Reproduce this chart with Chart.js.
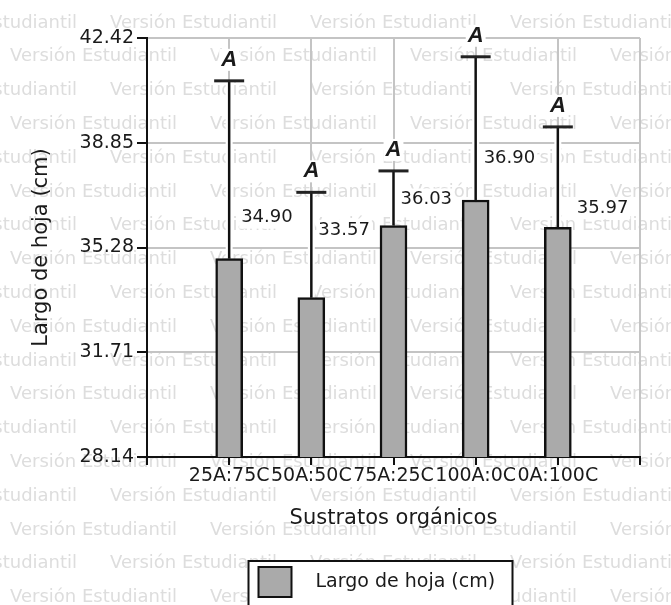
<!DOCTYPE html>
<html>
<head>
<meta charset="utf-8">
<script src="https://cdn.jsdelivr.net/npm/chart.js@4/dist/chart.umd.min.js"></script>
<style>
    html, body { margin: 0; padding: 0; background: #fff; overflow: hidden; }
</style>
</head>
<body>
<canvas id="chart" width="671" height="605"></canvas>
<script>
// Data
const categories = ['25A:75C', '50A:50C', '75A:25C', '100A:0C', '0A:100C'];
const leafLength = [34.90, 33.57, 36.03, 36.90, 35.97];
const leafSd = [6.06, 3.59, 1.86, 4.88, 3.42];
const groupLetters = ['A', 'A', 'A', 'A', 'A'];
const yTicks = [28.14, 31.71, 35.28, 38.85, 42.42];

const FONT = '"DejaVu Sans", sans-serif';
const BAR_FILL = '#aaaaaa';

// empty slots at both ends so the bars sit one step in from the axes
const paddedLabels = [''].concat(categories, ['']);
const paddedValues = [null].concat(leafLength, [null]);

function textWithBackground(ctx, text, x, y, align) {
    const w = ctx.measureText(text).width;
    const left = align === 'left' ? x : x - w / 2;
    ctx.fillStyle = '#fff';
    ctx.fillRect(left - 2, y - 11, w + 4, 22);
    ctx.fillStyle = '#1a1a1a';
    ctx.fillText(text, x, y);
}

// "Versión Estudiantil" watermark behind everything
const watermark = {
    id: 'watermark',
    beforeDraw(chart) {
        const ctx = chart.ctx;
        ctx.save();
        ctx.fillStyle = '#fff';
        ctx.fillRect(0, 0, chart.width, chart.height);
        ctx.font = '18px ' + FONT;
        ctx.fillStyle = '#dddddd';
        ctx.textBaseline = 'middle';
        for (let k = 0; k < 18; k++) {
            const y = 23 + k * 33.8;
            const start = k % 2 === 0 ? -90 : 10;
            for (let x = start; x < chart.width; x += 200) {
                ctx.fillText('Versión Estudiantil', x, y);
            }
        }
        ctx.restore();
    }
};

// error bars, letters and value labels
const annotations = {
    id: 'annotations',
    afterDatasetsDraw(chart, args, opts) {
        const ctx = chart.ctx;
        const y = chart.scales.y;
        const bars = chart.getDatasetMeta(0).data;
        ctx.save();
        leafLength.forEach((v, i) => {
            const bar = bars[i + 1];
            const cx = bar.x;
            const top = y.getPixelForValue(v);
            const cap = y.getPixelForValue(v + leafSd[i]);

            // white halo then the line
            ctx.strokeStyle = '#fff';
            ctx.lineWidth = 7;
            ctx.beginPath();
            ctx.moveTo(cx, top - 2);
            ctx.lineTo(cx, cap);
            ctx.stroke();

            ctx.strokeStyle = '#111';
            ctx.lineWidth = 2.5;
            ctx.beginPath();
            ctx.moveTo(cx, top);
            ctx.lineTo(cx, cap);
            ctx.stroke();

            ctx.lineWidth = 3;
            ctx.strokeStyle = '#222';
            ctx.beginPath();
            ctx.moveTo(cx - 15, cap);
            ctx.lineTo(cx + 15, cap);
            ctx.stroke();

            ctx.textBaseline = 'middle';
            ctx.textAlign = 'center';
            ctx.font = 'bold italic 22px "Liberation Sans", Arial, sans-serif';
            textWithBackground(ctx, groupLetters[i], cx, cap - 21, 'center');

            ctx.textAlign = 'left';
            ctx.font = '18px ' + FONT;
            textWithBackground(ctx, v.toFixed(2), cx + opts.dx[i], top - opts.dy[i], 'left');
        });
        ctx.restore();
    },
    afterDraw(chart) {
        // legend box, cut by the bottom edge as in the picture
        const ctx = chart.ctx;
        const area = chart.chartArea;
        const cx = (area.left + area.right) / 2 - 13;
        const left = cx - 132;
        const top = chart.height - 44;
        ctx.save();
        ctx.fillStyle = '#fff';
        ctx.fillRect(left, top, 264, 70);
        ctx.strokeStyle = '#111';
        ctx.lineWidth = 2;
        ctx.strokeRect(left, top, 264, 70);
        ctx.fillStyle = BAR_FILL;
        ctx.fillRect(left + 10, top + 6, 33, 30);
        ctx.strokeRect(left + 10, top + 6, 33, 30);
        ctx.fillStyle = '#1a1a1a';
        ctx.font = '19px ' + FONT;
        ctx.textBaseline = 'middle';
        ctx.fillText(chart.data.datasets[0].label, left + 67, top + 21);
        ctx.restore();
    }
};

new Chart(document.getElementById('chart'), {
    type: 'bar',
    data: {
        labels: paddedLabels,
        datasets: [{
            label: 'Largo de hoja (cm)',
            data: paddedValues,
            backgroundColor: BAR_FILL,
            borderColor: '#111',
            borderWidth: 2.5,
            borderSkipped: false,
            barThickness: 27
        }]
    },
    options: {
        responsive: false,
        animation: false,
        layout: { padding: { top: 38, right: 31, bottom: 0, left: 0 } },
        plugins: {
            legend: { display: false },
            tooltip: { enabled: false },
            annotations: { dx: [12, 7, 7, 8, 19], dy: [41, 67, 26, 42, 19] }
        },
        scales: {
            x: {
                offset: false,
                grid: { offset: false, color: '#c4c4c4', lineWidth: 2, tickColor: '#111', tickLength: 8 },
                border: { color: '#111', width: 2 },
                ticks: {
                    autoSkip: false, maxRotation: 0, minRotation: 0, padding: 0,
                    color: '#1a1a1a', font: { family: FONT, size: 19 }
                },
                title: {
                    display: true, text: 'Sustratos orgánicos', color: '#1a1a1a',
                    font: { family: FONT, size: 21 }, padding: { top: 0, bottom: 74 }
                },
                afterFit(scale) {
                    scale.height = 148;
                    scale.paddingLeft = 0;
                    scale.paddingRight = 0;
                }
            },
            y: {
                min: yTicks[0],
                max: yTicks[yTicks.length - 1],
                grid: { color: '#c4c4c4', lineWidth: 2, tickColor: '#111', tickLength: 10 },
                border: { color: '#111', width: 2 },
                ticks: {
                    padding: 3, color: '#1a1a1a', font: { family: FONT, size: 19 },
                    callback: v => v.toFixed(2)
                },
                afterBuildTicks(scale) {
                    scale.ticks = yTicks.map(v => ({ value: v }));
                },
                title: {
                    display: true, text: 'Largo de hoja (cm)', color: '#1a1a1a',
                    font: { family: FONT, size: 21 }, padding: { top: 29, bottom: 0 }
                },
                afterFit(scale) {
                    scale.width = 147;
                    scale.paddingTop = 0;
                    scale.paddingBottom = 0;
                }
            }
        }
    },
    plugins: [watermark, annotations]
});
</script>
</body>
</html>
